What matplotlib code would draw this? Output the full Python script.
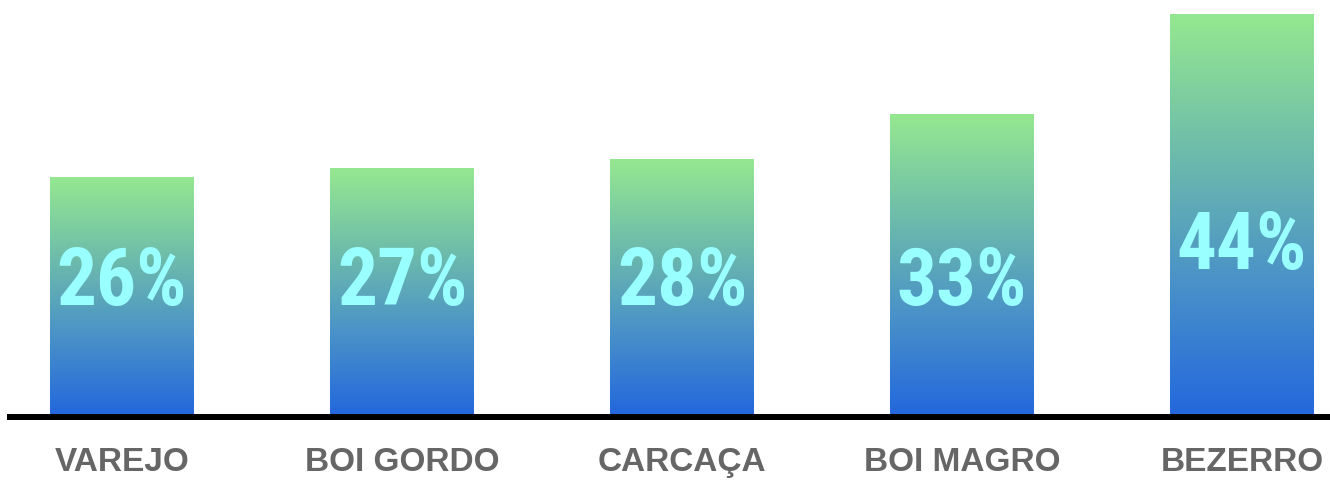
import matplotlib
matplotlib.use("Agg")
import matplotlib.pyplot as plt
import numpy as np
from matplotlib.colors import LinearSegmentedColormap
from matplotlib import font_manager

categories = ["VAREJO", "BOI GORDO", "CARCAÇA", "BOI MAGRO", "BEZERRO"]
values = [26, 27, 28, 33, 44]
labels = ["26%", "27%", "28%", "33%", "44%"]

names = {f.name for f in font_manager.fontManager.ttflist}
narrow = [n for n in ["Liberation Sans Narrow", "DejaVu Sans Condensed", "Roboto Condensed"] if n in names]
pct_family = narrow + ["DejaVu Sans"]

W, H = 1330, 481
fig = plt.figure(figsize=(W / 100, H / 100), dpi=100)
ax = fig.add_axes([0, 0, 1, 1])
ax.set_axis_off()

spacing = 280.0
xc0 = 122.0
scale = 400.0 / 44.0
base_px = H - 415

cmap = LinearSegmentedColormap.from_list("g", ["#2468dc", "#4a92c8", "#6fbdaa", "#95e890"])
grad = np.linspace(0, 1, 256).reshape(-1, 1)
bw = 144.0 / spacing
x = np.arange(len(categories))
bars = ax.bar(x, values, width=bw, color="none", edgecolor="none")
for b in bars:
    x0, y0 = b.get_x(), b.get_y()
    ax.imshow(grad, cmap=cmap, origin="lower", aspect="auto",
              extent=[x0, x0 + b.get_width(), y0, y0 + b.get_height()],
              interpolation="bicubic", zorder=1)
ax.set_xlim(-xc0 / spacing, (W - xc0) / spacing)
ax.set_ylim(-base_px / scale, (H - base_px) / scale)

ax.axhline(-3 / scale, xmin=10 / W, xmax=1, color="black", linewidth=6 * 0.72, zorder=3)

for xi, v, lab in zip(x, values, labels):
    ly = max(132 / scale, v - 25.6)
    ax.text(xi, ly, lab, ha="center", va="center", color="#99ffff",
            fontsize=57, fontweight="bold", family=pct_family, zorder=4)
    ax.text(xi, -48 / scale, categories[xi], ha="center", va="center",
            color="#666666", fontsize=24, fontweight="bold",
            family=["Liberation Sans", "DejaVu Sans"], zorder=4)

fig.savefig("out.png", dpi=100)
